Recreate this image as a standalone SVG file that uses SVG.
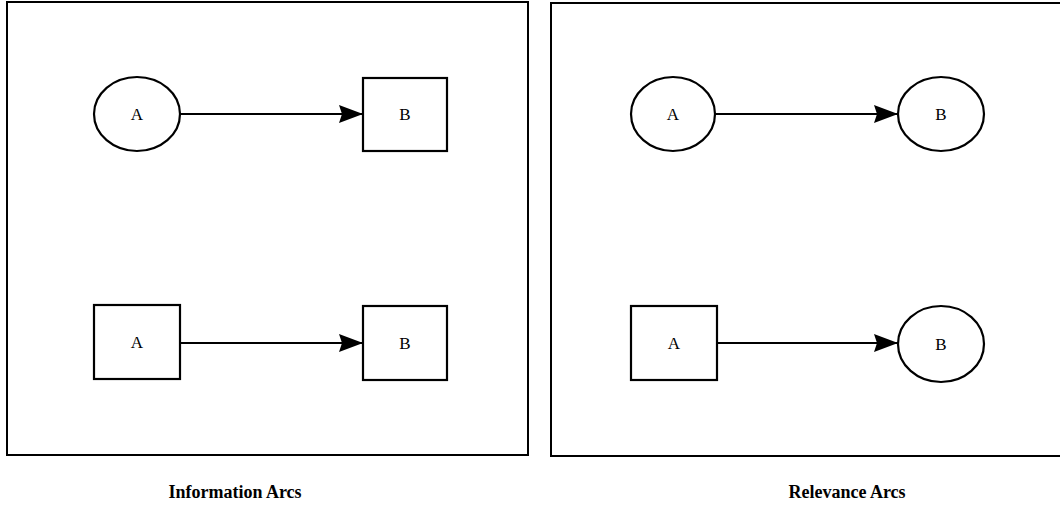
<svg xmlns="http://www.w3.org/2000/svg" width="1060" height="508" viewBox="0 0 1060 508">
  <style>
    .panel { fill: none; stroke: #000; stroke-width: 2; }
    .node { fill: #fff; stroke: #000; stroke-width: 2.2; }
    .lbl { font-family: "Liberation Serif", "Times New Roman", serif; font-size: 17px; fill: #000; text-anchor: middle; dominant-baseline: central; }
    .cap { font-family: "Liberation Serif", "Times New Roman", serif; font-size: 18px; font-weight: bold; fill: #000; text-anchor: middle; }
    .arc { stroke: #000; stroke-width: 2.2; fill: none; marker-end: url(#head); }
  </style>
  <defs>
    <marker id="head" markerUnits="userSpaceOnUse" markerWidth="24" markerHeight="20" viewBox="0 0 24 20" refX="24" refY="10" orient="auto">
      <path d="M0,1 L24,10 L0,19 L3,10 Z" fill="#000"/>
    </marker>
  </defs>

  <rect width="1060" height="508" fill="#fff"/>

  <!-- frames -->
  <rect class="panel" x="7" y="2" width="521" height="453"/>
  <rect class="panel" x="551" y="3" width="520" height="453"/>

  <!-- left frame: information arcs -->
  <g id="info-top-a">
    <ellipse class="node" cx="137" cy="114" rx="43" ry="37"/>
    <text class="lbl" x="137" y="114">A</text>
  </g>
  <g id="info-top-b">
    <rect class="node" x="363" y="78" width="84" height="73"/>
    <text class="lbl" x="405" y="114">B</text>
  </g>
  <g id="info-bottom-a">
    <rect class="node" x="94" y="305" width="86" height="74"/>
    <text class="lbl" x="137" y="342">A</text>
  </g>
  <g id="info-bottom-b">
    <rect class="node" x="363" y="306" width="84" height="74"/>
    <text class="lbl" x="405" y="343">B</text>
  </g>

  <!-- right frame: relevance arcs -->
  <g id="rel-top-a">
    <ellipse class="node" cx="673" cy="114" rx="42" ry="37"/>
    <text class="lbl" x="673" y="114">A</text>
  </g>
  <g id="rel-top-b">
    <ellipse class="node" cx="941" cy="114" rx="43" ry="37"/>
    <text class="lbl" x="941" y="114">B</text>
  </g>
  <g id="rel-bottom-a">
    <rect class="node" x="631" y="306" width="86" height="74"/>
    <text class="lbl" x="674" y="343">A</text>
  </g>
  <g id="rel-bottom-b">
    <ellipse class="node" cx="941" cy="344" rx="43" ry="38"/>
    <text class="lbl" x="941" y="344">B</text>
  </g>

  <g id="connectors">
    <line class="arc" x1="180" y1="114" x2="363" y2="114"/>
    <line class="arc" x1="180" y1="343" x2="363" y2="343"/>
    <line class="arc" x1="715" y1="114" x2="898" y2="114"/>
    <line class="arc" x1="717" y1="343" x2="898" y2="343"/>
  </g>

  <text class="cap" x="235" y="498">Information Arcs</text>
  <text class="cap" x="847" y="498">Relevance Arcs</text>
</svg>
